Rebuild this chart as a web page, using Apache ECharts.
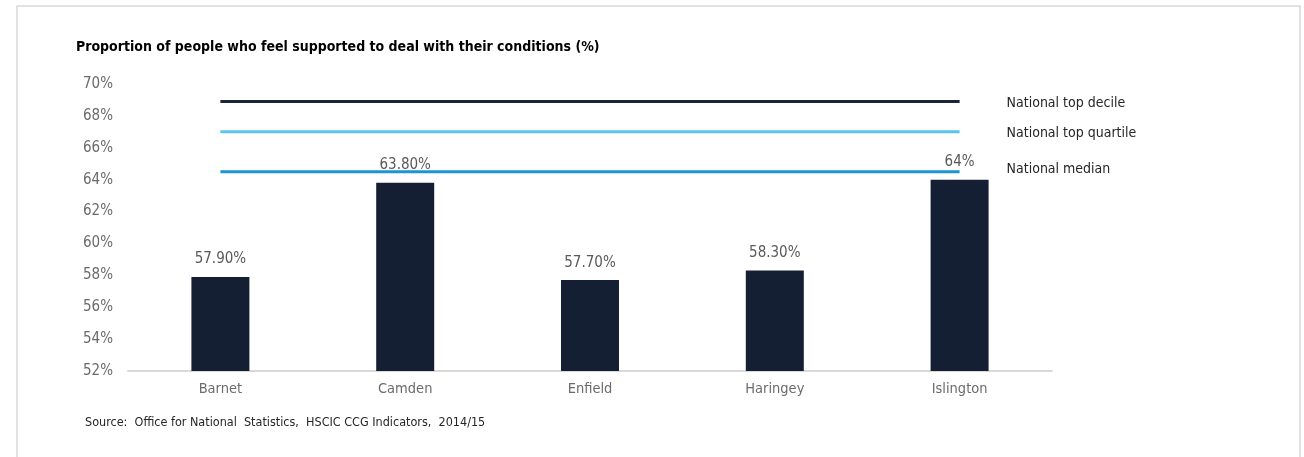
<!DOCTYPE html>
<html>
<head>
<meta charset="utf-8">
<script src="https://cdn.jsdelivr.net/npm/echarts@6/dist/echarts.min.js"></script>
<style>
  html, body { margin: 0; padding: 0; background: #fff; }
  #main { width: 1304px; height: 457px; }
</style>
</head>
<body>
<div id="main"></div>
<script>
var font = '"Liberation Sans Narrow", "DejaVu Sans Condensed", "Noto Sans", sans-serif';

var categories = ['Barnet', 'Camden', 'Enfield', 'Haringey', 'Islington'];
var values = [57.9, 63.8, 57.7, 58.3, 64];
var valueLabels = ['57.90%', '63.80%', '57.70%', '58.30%', '64%'];
var topDecile = [68.9, 68.9, 68.9, 68.9, 68.9];
var topQuartile = [67, 67, 67, 67, 67];
var median = [64.5, 64.5, 64.5, 64.5, 64.5];

var chart = echarts.init(document.getElementById('main'));

function refLine(name, data, color, dy) {
  return {
    name: name,
    type: 'line',
    data: data,
    symbol: 'none',
    silent: true,
    lineStyle: { color: color, width: 3 },
    endLabel: {
      show: true,
      formatter: '{a}',
      distance: 47,
      offset: [0, dy],
      color: '#262626',
      fontFamily: font,
      fontSize: 14
    },
    z: 3
  };
}

var option = {
  animation: false,
  textStyle: { fontFamily: font },
  graphic: [
    {
      type: 'rect',
      shape: { x: 17, y: 6, width: 1283, height: 470 },
      style: { fill: 'none', stroke: '#d9d9d9', lineWidth: 1.5 }
    },
    {
      type: 'text',
      left: 76,
      top: 40,
      style: {
        text: 'Proportion of people who feel supported to deal with their conditions (%)',
        fill: '#000',
        font: 'bold 14px ' + font
      }
    },
    {
      type: 'text',
      left: 85,
      top: 416,
      style: {
        text: 'Source:  Office for National  Statistics,  HSCIC CCG Indicators,  2014/15',
        fill: '#262626',
        font: '12.5px ' + font
      }
    }
  ],
  grid: { left: 128, right: 252, top: 84, bottom: 86 },
  xAxis: {
    type: 'category',
    data: categories,
    axisLine: { lineStyle: { color: '#d9d9d9', width: 2 } },
    axisTick: { show: false },
    axisLabel: { color: '#6b6b6b', fontSize: 14.5, margin: 11 }
  },
  yAxis: {
    type: 'value',
    min: 52,
    max: 70,
    interval: 2,
    splitLine: { show: false },
    axisLine: { show: false },
    axisTick: { show: false },
    axisLabel: { color: '#6b6b6b', fontSize: 15, margin: 15, formatter: '{value}%' }
  },
  series: [
    {
      name: 'Proportion',
      type: 'bar',
      data: values,
      barWidth: 58,
      itemStyle: { color: '#141f33' },
      label: {
        show: true,
        position: 'top',
        distance: 10,
        color: '#595959',
        fontSize: 15,
        formatter: function (p) { return valueLabels[p.dataIndex]; }
      },
      z: 2
    },
    refLine('National top decile', topDecile, '#1b2438', 2),
    refLine('National top quartile', topQuartile, '#5cc3f0', 2),
    refLine('National median', median, '#1b95d6', -2)
  ]
};

chart.setOption(option);
</script>
</body>
</html>
